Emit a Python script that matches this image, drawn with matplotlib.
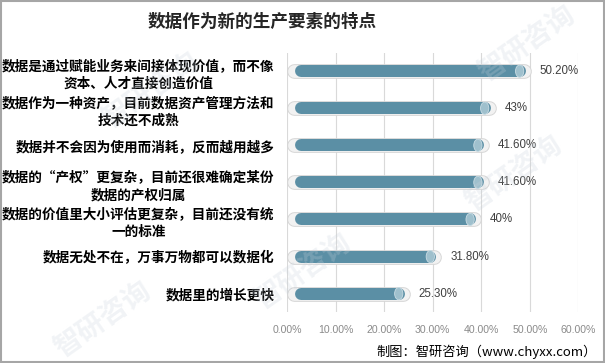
import numpy as np
import matplotlib.pyplot as plt
import matplotlib.patches as patches

plt.rcParams['font.family'] = ['Noto Sans CJK SC', 'DejaVu Sans']

# data
categories = [
    "数据是通过赋能业务来间接体现价值，而不像\n资本、人才直接创造价值",
    "数据作为一种资产，目前数据资产管理方法和\n技术还不成熟",
    "数据并不会因为使用而消耗，反而越用越多",
    "数据的“产权”更复杂，目前还很难确定某份\n数据的产权归属",
    "数据的价值里大小评估更复杂，目前还没有统\n一的标准",
    "数据无处不在，万事万物都可以数据化",
    "数据里的增长更快",
]
values = [50.2, 43, 41.6, 41.6, 40, 31.8, 25.3]
value_labels = ["50.20%", "43%", "41.60%", "41.60%", "40%", "31.80%", "25.30%"]
xticks = [0, 10, 20, 30, 40, 50, 60]
xtick_labels = ["0.00%", "10.00%", "20.00%", "30.00%", "40.00%", "50.00%", "60.00%"]

title = "数据作为新的生产要素的特点"
source = "制图：智研咨询（www.chyxx.com）"

fig = plt.figure(figsize=(6.05, 3.63), dpi=100)
ax = fig.add_axes([0.4745, 0.14, 0.4815, 0.715])

ax.set_xlim(0, 60)
ax.set_ylim(len(values) - 0.5, -0.5)

# grid
for t in xticks:
    ax.axvline(t, color='#d9d9d9', lw=0.8, zorder=0)

px = 60 / (0.4815 * 605)  # data units per pixel along x
for i, v in enumerate(values):
    # light track (rounded)
    r = 7 * px
    ax.plot([r, v - r], [i, i], color='#d6d6d6', lw=10.6,
            solid_capstyle='round', zorder=1)
    ax.plot([r, v - r], [i, i], color='#f2f2f2', lw=9.2,
            solid_capstyle='round', zorder=2)
    # dark bar
    r2 = 6 * px
    end = v - 2.3
    ax.plot([1.6 + r2, end], [i, i], color='#5b8fa5', lw=8.6,
            solid_capstyle='round', zorder=3)
    ax.plot([1.6 + r2, end], [i, i], color='#5b8fa5', lw=8.6,
            solid_capstyle='butt', zorder=3)
    # end cap
    cap = patches.Ellipse((end, i), width=1.7, height=0.33,
                          facecolor='#9fc0cd', edgecolor='#c9dce4',
                          lw=0.6, zorder=4)
    ax.add_patch(cap)
    ax.text(v + 1.8, i, value_labels[i], va='center', ha='left',
            fontsize=8.3, color='#404040', family='Liberation Sans')

ax.set_xticks(xticks)
ax.set_xticklabels(xtick_labels, fontsize=7.6, color='#8a8a8a',
                   family='Liberation Sans')
ax.set_yticks(range(len(categories)))
ax.set_yticklabels(categories, fontsize=9.8, fontweight='bold',
                   multialignment='center', linespacing=1.4)
ax.tick_params(axis='both', length=0)
ax.tick_params(axis='y', pad=9)
ax.tick_params(axis='x', pad=9)
for s in ax.spines.values():
    s.set_visible(False)

fig.text(262 / 605, 1 - 22 / 363, title, ha='center', va='center',
         fontsize=12.7, fontweight='bold', color='#262626')
fig.text(597 / 605, 1 - 352 / 363, source, ha='right', va='center',
         fontsize=9.5, color='#000000')

# watermarks
for (wx, wy) in [(0.17, 0.12), (0.5, 0.25), (0.87, 0.88), (0.25, 0.75), (0.85, 0.52)]:
    fig.text(wx, wy, "智研咨询", rotation=35, ha='center', va='center',
             fontsize=20, color='#c8d2dc', alpha=0.25, fontweight='bold')

# outer frame
fig.add_artist(patches.Rectangle((0.001, 0.002), 0.997, 0.995,
                                 transform=fig.transFigure, fill=False,
                                 edgecolor='#a6a6a6', lw=1.5))

fig.savefig('out.png', dpi=100)
